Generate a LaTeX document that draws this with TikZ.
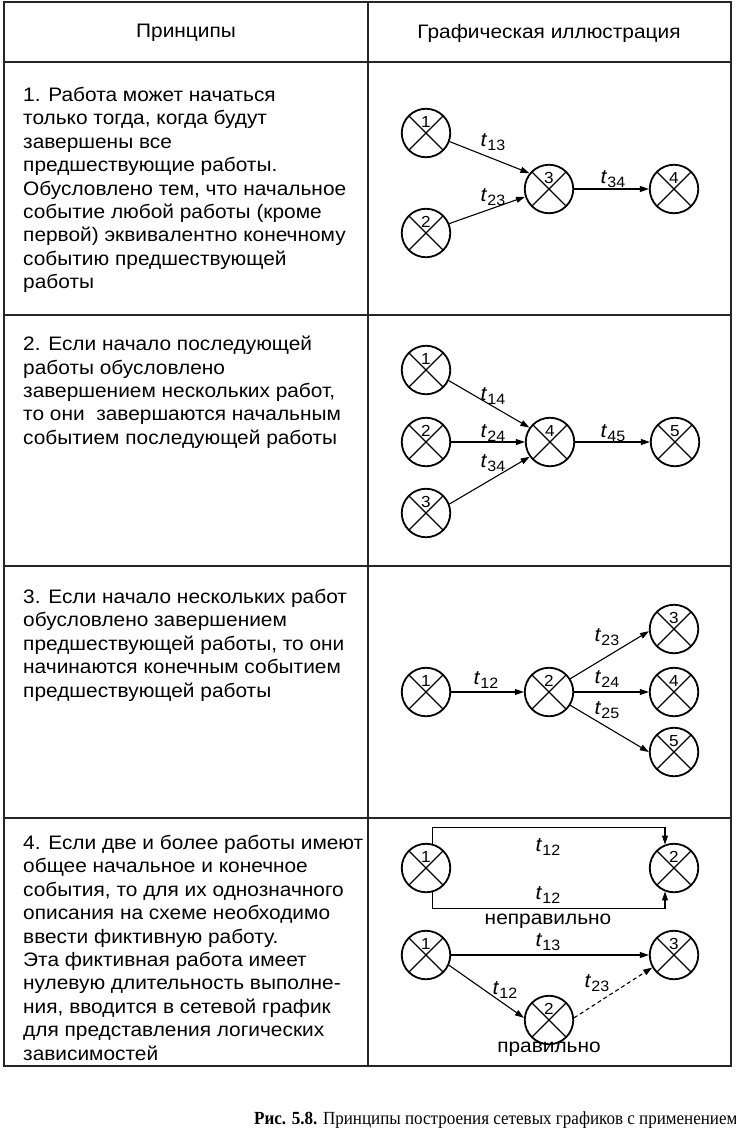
\documentclass[tikz,border=0pt]{standalone}
\usepackage{fontspec}
\setmainfont[FakeStretch=1.07]{Liberation Sans}
\newfontfamily\capfont[FakeStretch=0.92]{Liberation Serif}
\usetikzlibrary{arrows.meta}
\newcommand\evn[1]{\raisebox{5.5pt}[0pt][0pt]{#1}}
\newcommand\tsub[1]{\textit{t}\raisebox{-4.5pt}{\fontsize{15}{15}\selectfont #1}}
\begin{document}
\begin{tikzpicture}[x=1pt,y=-1pt,
  grid/.style={line width=1.3pt,draw=black!85},
  ev/.style={circle,draw,line width=1.8pt,minimum size=48.5pt,inner sep=0pt,
    font=\fontsize{16}{16}\selectfont,
    path picture={\draw[line width=1.1pt] (path picture bounding box.north west) -- (path picture bounding box.south east)
      (path picture bounding box.north east) -- (path picture bounding box.south west);}},
  arr/.style={line width=1.1pt,-{Triangle[length=9pt,width=6pt]}},
  tl/.style={inner sep=0pt,font=\fontsize{20}{20}\selectfont},
  body/.style={anchor=north west,inner sep=0pt,align=left,font=\fontsize{19.5}{23.4}\selectfont},
  hdr/.style={inner sep=0pt,font=\fontsize{19.5}{23.4}\selectfont}
]
\useasboundingbox (0,0) rectangle (736,1130);
% table
\draw[grid] (4,2) rectangle (731,1066);
\draw[grid] (368,2) -- (368,1066);
\foreach \yy in {62,315,566,818} \draw[grid] (4,\yy) -- (731,\yy);
\node[hdr] (h1) at (186,33) {Принципы};
\node[hdr] (h2) at (549,33) {Графическая иллюстрация};
% texts
\node[body] (p1) at (23,87) {1. Работа может начаться\\только тогда, когда будут\\завершены все\\предшествующие работы.\\Обусловлено тем, что начальное\\событие любой работы (кроме\\первой) эквивалентно конечному\\событию предшествующей\\работы};
\node[body] (p2) at (23,336) {2. Если начало последующей\\работы обусловлено\\завершением нескольких работ,\\то они \ завершаются начальным\\событием последующей работы};
\node[body] (p3) at (23,589) {3. Если начало нескольких работ\\обусловлено завершением\\предшествующей работы, то они\\начинаются конечным событием\\предшествующей работы};
\node[body] (p4) at (23,835) {4. Если две и более работы имеют\\общее начальное и конечное\\события, то для их однозначного\\описания на схеме необходимо\\ввести фиктивную работу.\\Эта фиктивная работа имеет\\нулевую длительность выполне-\\ния, вводится в сетевой график\\для представления логических\\зависимостей};
% row 1
\node[ev] (a1) at (426,133) {\evn{1}};
\node[ev] (a2) at (426,233) {\evn{2}};
\node[ev] (a3) at (549,189) {\evn{3}};
\node[ev] (a4) at (674,189) {\evn{4}};
\draw[arr] (a1.340) -- (a3.141);
\draw[arr] (a2.22) -- (a3.198);
\draw[arr] (a3) -- (a4);
\node[tl] (ta13) at (493,142) {\tsub{13}};
\node[tl] (ta23) at (493,197) {\tsub{23}};
\node[tl] (ta34) at (613,179) {\tsub{34}};
% row 2
\node[ev] (b1) at (426,370) {\evn{1}};
\node[ev] (b2) at (426,442) {\evn{2}};
\node[ev] (b3) at (426,513) {\evn{3}};
\node[ev] (b4) at (550,442) {\evn{4}};
\node[ev] (b5) at (675,442) {\evn{5}};
\draw[arr] (b1.335) -- (b4.145);
\draw[arr] (b2) -- (b4);
\draw[arr] (b3.21) -- (b4.216);
\draw[arr] (b4) -- (b5);
\node[tl] (tb14) at (493,396) {\tsub{14}};
\node[tl] (tb24) at (493,433) {\tsub{24}};
\node[tl] (tb34) at (493,463) {\tsub{34}};
\node[tl] (tb45) at (613,433) {\tsub{45}};
% row 3
\node[ev] (c1) at (426,692) {\evn{1}};
\node[ev] (c2) at (549,692) {\evn{2}};
\node[ev] (c3) at (674,629) {\evn{3}};
\node[ev] (c4) at (674,692) {\evn{4}};
\node[ev] (c5) at (674,752) {\evn{5}};
\draw[arr] (c1) -- (c2);
\draw[arr] (c2.32) -- (c3.185);
\draw[arr] (c2) -- (c4);
\draw[arr] (c2.-32) -- (c5.180);
\node[tl] (tc12) at (486,680) {\tsub{12}};
\node[tl] (tc23) at (607,637) {\tsub{23}};
\node[tl] (tc24) at (607,679) {\tsub{24}};
\node[tl] (tc25) at (607,710) {\tsub{25}};
% row 4
\node[ev] (d1) at (426,868) {\evn{1}};
\node[ev] (d2) at (674,868) {\evn{2}};
\draw[arr] (d1.76) -- ++(0,-16) -| (d2.111);
\draw[arr] (d1.-76) -- ++(0,16) -| (d2.249);
\node[tl] (td12a) at (548,847) {\tsub{12}};
\node[tl] (td12b) at (548,895) {\tsub{12}};
\node[hdr] (wrong) at (548,921) {неправильно};
\node[ev] (e1) at (426,955) {\evn{1}};
\node[ev] (e2) at (549,1020) {\evn{2}};
\node[ev] (e3) at (674,955) {\evn{3}};
\draw[arr] (e1) -- (e3);
\draw[arr] (e1.-24) -- (e2.175);
\draw[arr,dash pattern=on 4pt off 3pt] (e2.5) -- (e3.210);
\node[tl] (te13) at (548,942) {\tsub{13}};
\node[tl] (te12) at (505,990) {\tsub{12}};
\node[tl] (te23) at (597,983) {\tsub{23}};
\node[hdr] (right) at (549,1049) {правильно};
% caption
\node[anchor=base west,inner sep=0pt,font=\capfont\fontsize{18.5}{18.5}\selectfont] (cap) at (254,1124) {\textbf{Рис. 5.8.} Принципы построения сетевых графиков с применением};
\end{tikzpicture}
\end{document}
